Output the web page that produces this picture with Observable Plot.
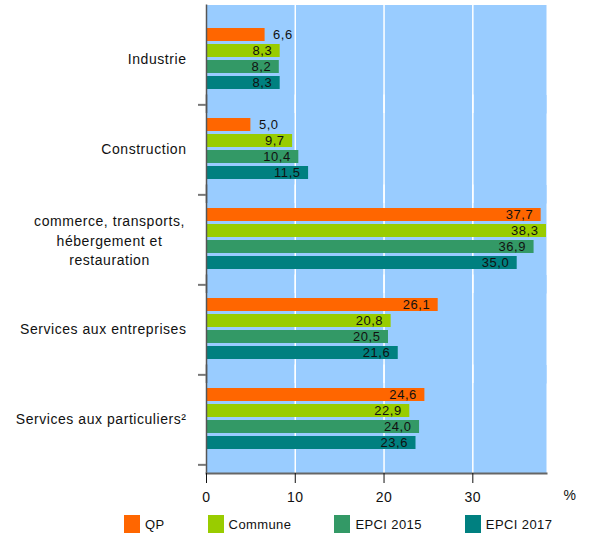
<!DOCTYPE html>
<html><head><meta charset="utf-8">
<script src="https://cdn.jsdelivr.net/npm/d3@7"></script>
<script src="https://cdn.jsdelivr.net/npm/@observablehq/plot@0.6"></script>
<style>
body{margin:0;background:#fff;font-family:"Liberation Sans",Arial,sans-serif;letter-spacing:0.4px;}
#legend{display:flex;align-items:center;padding-left:124px;margin-top:7px;height:18px;font-size:13px;color:#111;white-space:nowrap}
.item{display:flex;align-items:center;margin-right:43px;flex:none}
.sw{width:16px;height:18px;margin-right:5px;flex:none}
</style></head><body><div id="chart"></div><div id="legend"></div>
<script>
const categories = ["Industrie", "Construction", "commerce, transports,\nhébergement et\nrestauration", "Services aux entreprises", "Services aux particuliers²"];
const series = ["QP", "Commune", "EPCI 2015", "EPCI 2017"];
const qp = [6.6, 5.0, 37.7, 26.1, 24.6];
const commune = [8.3, 9.7, 38.3, 20.8, 22.9];
const epci2015 = [8.2, 10.4, 36.9, 20.5, 24.0];
const epci2017 = [8.3, 11.5, 35.0, 21.6, 23.6];
const colors = ["#FF6600", "#99CC00", "#339966", "#008080"];
const xTicks = [0, 10, 20, 30];
const xUnit = "%";

const valuesBySeries = [qp, commune, epci2015, epci2017];
const data = categories.flatMap((c, i) => series.map((s, j) => ({category: c, series: s, value: valuesBySeries[j][i]})));
const fmt = v => d3.format(".1f")(v).replace(".", ",");
const multi = categories.filter(c => c.includes("\n"));
const single = categories.filter(c => !c.includes("\n"));
const xmax = d3.max(data, d => d.value);
const ext = {insetTop: -9.5, insetBottom: -9};

const chart = Plot.plot({
  width: 590, height: 508,
  marginLeft: 206, marginRight: 44, marginTop: 3, marginBottom: 33,
  style: {fontFamily: "'Liberation Sans', Arial, sans-serif", fontSize: "14px", letterSpacing: "0.55px", color: "#111", background: "#fff", overflow: "visible"},
  x: {domain: [0, xmax]},
  fy: {domain: categories, padding: 0, insetTop: 9.5, insetBottom: 9},
  y: {domain: series, padding: 0.16, insetTop: 11, insetBottom: 11, axis: null},
  color: {domain: series, range: colors},
  marks: [
    Plot.frame({fill: "#99CCFF", ...ext}),
    Plot.ruleX(xTicks.slice(1), {stroke: "#fff", strokeWidth: 1.5, ...ext}),
    Plot.barX(data, {fy: "category", y: "series", x: "value", fill: "series"}),
    Plot.text(data.filter(d => d.value >= 7), {fy: "category", y: "series", x: "value", text: d => fmt(d.value), textAnchor: "end", dx: -8, fontSize: 13, fill: "#111"}),
    Plot.text(data.filter(d => d.value < 7), {fy: "category", y: "series", x: "value", text: d => fmt(d.value), textAnchor: "start", dx: 8, fontSize: 13, fill: "#111"}),
    Plot.ruleX([0], {stroke: "#555", strokeWidth: 1.5, ...ext}),
    Plot.frame({anchor: "bottom", facetAnchor: "bottom", stroke: "#666", strokeWidth: 2, insetBottom: -9}),
    Plot.axisFy({ticks: single, anchor: "left", tickSize: 0, tickPadding: 20, fontSize: 14, label: null}),
    Plot.axisFy({ticks: multi, anchor: "left", tickSize: 0, tickPadding: 97, textAnchor: "middle", lineHeight: 1.4, fontSize: 14, label: null}),
    Plot.axisFy({anchor: "left", tickSize: 8, tickFormat: null, dy: 45.35, stroke: "#777", strokeWidth: 2, label: null}),
    Plot.axisX({ticks: xTicks, tickSize: 10, tickPadding: 9, label: null, fontSize: 14, dy: 9, stroke: "#111"}),
    Plot.text([xUnit], {frameAnchor: "bottom-right", facetAnchor: "bottom", dx: 17, dy: 31, lineAnchor: "middle", textAnchor: "start", fontSize: 14, fill: "#111"})
  ]
});
document.getElementById("chart").appendChild(chart);

const legend = document.getElementById("legend");
series.forEach((s, i) => {
  const item = document.createElement("div");
  item.className = "item";
  item.innerHTML = `<span class="sw" style="background:${colors[i]}"></span><span>${s}</span>`;
  legend.appendChild(item);
});
</script>
</body></html>
